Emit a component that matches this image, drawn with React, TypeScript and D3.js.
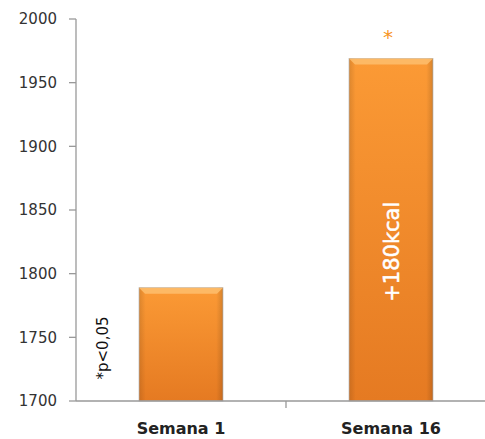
import React from "react";
import * as d3 from "d3";

const categories = ["Semana 1", "Semana 16"];
const values = [1789, 1969];
const yTicks = [1700, 1750, 1800, 1850, 1900, 1950, 2000];
const barLabels = ["", "+180kcal"];
const sigMarks = ["", "*"];
const footnote = "*p<0,05";

const W = 485;
const H = 439;
const left = 76;
const right = 496;
const top = 19;
const bottom = 401;

export default function App() {
  const x = d3.scaleBand<string>().domain(categories).range([left, right]).paddingInner(0.6).paddingOuter(0.3);
  const y = d3.scaleLinear().domain([1700, 2000]).range([bottom, top]);
  const band = d3.scaleBand<string>().domain(categories).range([left, right]);
  const font = "'DejaVu Sans', Verdana, sans-serif";

  return (
    <svg width={W} height={H} style={{ position: "absolute", left: 0, top: 0, background: "#fff" }}>
      <defs>
        <linearGradient id="barGrad" x1="0" y1="0" x2="0" y2="1">
          <stop offset="0%" stopColor="#fb9a35" />
          <stop offset="100%" stopColor="#e57a22" />
        </linearGradient>
        <linearGradient id="sideGrad" x1="0" y1="0" x2="1" y2="0">
          <stop offset="0%" stopColor="#000" stopOpacity={0.12} />
          <stop offset="8%" stopColor="#000" stopOpacity={0} />
          <stop offset="92%" stopColor="#000" stopOpacity={0} />
          <stop offset="100%" stopColor="#000" stopOpacity={0.15} />
        </linearGradient>
      </defs>
      {/* y axis */}
      <line x1={left} x2={left} y1={top} y2={bottom} stroke="#999" strokeWidth={1.3} />
      {yTicks.map((t) => (
        <g key={t}>
          <line x1={left - 7} x2={left} y1={y(t)} y2={y(t)} stroke="#999" strokeWidth={1.3} />
          <text x={57} y={y(t)} dy="0.36em" textAnchor="end" fontFamily={font} fontSize={15} fill="#333">
            {t}
          </text>
        </g>
      ))}
      {/* bars */}
      {categories.map((c, i) => {
        const bx = x(c)!;
        const bw = x.bandwidth();
        const by = y(values[i]);
        const bh = bottom - by;
        return (
          <g key={c}>
            <rect x={bx} y={by} width={bw} height={bh} fill="url(#barGrad)" stroke="#c0c0c0" strokeWidth={0.8} />
            <rect x={bx} y={by} width={bw} height={bh} fill="url(#sideGrad)" />
            <path
              d={`M${bx},${by} L${bx + bw},${by} L${bx + bw - 6},${by + 6} L${bx + 6},${by + 6} Z`}
              fill="#fdbd6a"
              opacity={0.9}
            />
            {barLabels[i] && (
              <text
                transform={`translate(${bx + bw / 2 + 8},${(by + bottom) / 2 + 22}) rotate(-90)`}
                textAnchor="middle"
                fontFamily={font}
                fontSize={21}
                fill="#fff"
                stroke="#fff"
                strokeWidth={0.5}
              >
                {barLabels[i]}
              </text>
            )}
            {sigMarks[i] && (
              <text x={bx + bw / 2 - 3} y={by - 14} textAnchor="middle" fontFamily={font} fontSize={20} fill="#f7941d">
                {sigMarks[i]}
              </text>
            )}
          </g>
        );
      })}
      {/* x axis */}
      <line x1={left} x2={W} y1={bottom} y2={bottom} stroke="#999" strokeWidth={1.3} />
      {categories.map((c, i) =>
        i > 0 ? (
          <line key={c} x1={band(c)!} x2={band(c)!} y1={bottom} y2={bottom + 7} stroke="#999" strokeWidth={1.3} />
        ) : null
      )}
      {categories.map((c) => (
        <text
          key={c}
          x={x(c)! + x.bandwidth() / 2}
          y={434}
          textAnchor="middle"
          fontFamily={font}
          fontWeight="bold"
          fontSize={16}
          fill="#222"
        >
          {c}
        </text>
      ))}
      <text
        transform={`translate(108,348) rotate(-90)`}
        textAnchor="middle"
        fontFamily={font}
        fontSize={15}
        fill="#111"
      >
        {footnote}
      </text>
    </svg>
  );
}
